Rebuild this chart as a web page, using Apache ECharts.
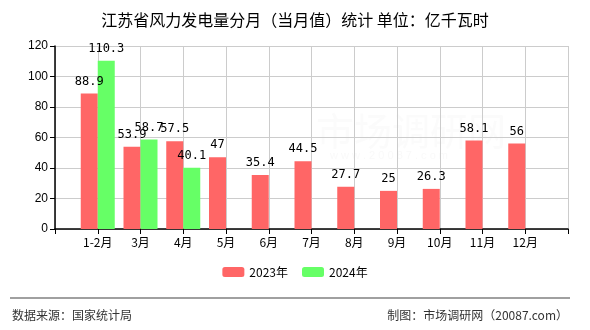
<!DOCTYPE html>
<html><head><meta charset="utf-8">
<script src="https://cdn.jsdelivr.net/npm/echarts@6/dist/echarts.min.js"></script>
<style>html,body{margin:0;padding:0;background:#fff}#c{width:590px;height:330px}</style>
</head><body><div id="c"></div>
<script>
var categories = ['1-2月','3月','4月','5月','6月','7月','8月','9月','10月','11月','12月'];
var values2023 = [88.9,53.9,57.5,47,35.4,44.5,27.7,25,26.3,58.1,56];
var values2024 = [110.3,58.7,40.1,null,null,null,null,null,null,null,null];
var yTicks = [0,20,40,60,80,100,120];

var axisCats = [''].concat(categories).concat(['']);
function pad(a){ return [null].concat(a).concat([null]); }
var lblFont = '"DejaVu Sans Mono", monospace';
var chart = echarts.init(document.getElementById('c'));
chart.setOption({
  animation:false,
  backgroundColor:'#fff',
  title:{text:'江苏省风力发电量分月（当月值）统计 单位：亿千瓦时',left:'center',top:7,
    textStyle:{fontSize:16,fontWeight:'normal',color:'#000',fontFamily:'"Noto Sans CJK SC"'}},
  grid:{left:55,right:22,top:46,bottom:101},
  legend:{bottom:47,left:'center',itemWidth:22,itemHeight:10,itemGap:14,
    textStyle:{fontSize:12,color:'#000',fontFamily:'"Noto Sans CJK SC"'},
    data:['2023年','2024年']},
  xAxis:{type:'category',data:axisCats,boundaryGap:false,
    axisLine:{lineStyle:{color:'#000',width:1.5}},
    axisTick:{show:true,length:5,lineStyle:{color:'#000'}},
    axisLabel:{color:'#000',fontSize:12,margin:7,fontFamily:'"Noto Sans CJK SC"'},
    splitLine:{show:true,lineStyle:{color:'#cccccc'}}},
  yAxis:{type:'value',min:yTicks[0],max:yTicks[yTicks.length-1],interval:20,
    axisLine:{show:true,lineStyle:{color:'#000',width:1.5}},
    axisTick:{show:true,length:5,lineStyle:{color:'#000'}},
    axisLabel:{color:'#000',fontSize:12,margin:7,fontFamily:'"Liberation Sans"'},
    splitLine:{lineStyle:{color:'#cccccc'}}},
  graphic:[
    {type:'text',left:316,top:112,style:{text:'市场调研网',fontSize:38,fill:'rgba(200,200,200,0.07)',fontFamily:'"Noto Sans CJK SC"'}},
    {type:'text',left:330,top:150,style:{text:'w w w . 2 0 0 8 7 . c o m',fontSize:11,fill:'rgba(200,200,200,0.1)'}},
    {type:'line',shape:{x1:10,y1:298,x2:570,y2:298},style:{stroke:'#808080',lineWidth:1.5}},
    {type:'text',left:12,top:309,style:{text:'数据来源：国家统计局',fontSize:12,fill:'#333',fontFamily:'"Noto Sans CJK SC"'}},
    {type:'text',right:22,top:309,style:{text:'制图：市场调研网（20087.com）',fontSize:12,fill:'#333',fontFamily:'"Noto Sans CJK SC"'}}
  ],
  series:[
    {name:'2023年',type:'bar',data:pad(values2023),barWidth:17,barGap:'0%',
      itemStyle:{color:'#ff6666'},
      label:{show:true,position:'top',distance:6,color:'#000',fontSize:12,fontFamily:lblFont}},
    {name:'2024年',type:'bar',data:pad(values2024),barWidth:17,barGap:'0%',
      itemStyle:{color:'#66ff66'},
      label:{show:true,position:'top',distance:6,color:'#000',fontSize:12,fontFamily:lblFont}}
  ]
});
</script></body></html>
